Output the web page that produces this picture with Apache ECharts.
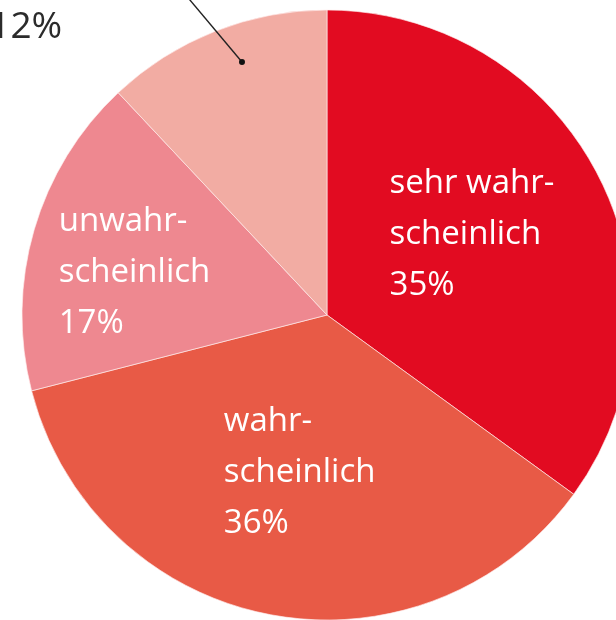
<!DOCTYPE html>
<html>
<head>
<meta charset="utf-8">
<style>
  html, body { margin: 0; padding: 0; background: #fff; }
  #chart { width: 616px; height: 620px; }
</style>
<script src="https://cdn.jsdelivr.net/npm/echarts@6/dist/echarts.min.js"></script>
</head>
<body>
<div id="chart"></div>
<script>
// Answer categories and their shares in percent
const categories = ['sehr wahrscheinlich', 'wahrscheinlich', 'unwahrscheinlich', 'sehr unwahrscheinlich'];
const labelTexts = ['sehr wahr-\nscheinlich', 'wahr-\nscheinlich', 'unwahr-\nscheinlich', ''];
const shares = [35, 36, 17, 12];

// Styling and layout
const sliceColors = ['#E20B21', '#E85A46', '#EE8890', '#F2ACA3'];
const labelShift = [
  { dx: -76, dy: -10, align: 'left' },
  { dx: -74, dy: 5, align: 'left' },
  { dx: -119, dy: 1, align: 'left' },
  { dx: -112, dy: 10, align: 'right' }
];
const pieCenter = [327, 315];
const pieRadius = 305;
// pointer into the last slice: position within the slice and heading of the leader line
const pointer = { along: 0.57, depth: 0.875, heading: 320, length: 110 };

const chart = echarts.init(document.getElementById('chart'), null, { renderer: 'canvas' });

const insideLabel = {
  show: true,
  position: 'inside',
  color: '#ffffff',
  fontFamily: 'Open Sans',
  fontSize: 33,
  lineHeight: 51,
  formatter: p => labelTexts[p.dataIndex] + '\n' + p.value + '%'
};

const data = categories.map((name, i) => {
  const item = { name, value: shares[i], itemStyle: { color: sliceColors[i] } };
  if (i === 3) {
    item.label = {
      show: true,
      position: 'outside',
      color: '#2b2b2b',
      fontFamily: 'Open Sans',
      fontSize: 37,
      formatter: p => p.value + '%'
    };
    item.labelLine = { show: false };
  }
  return item;
});

// leader line into the last slice, placed from the slice angles
const total = shares.reduce((a, b) => a + b, 0);
const startLast = shares.slice(0, 3).reduce((a, b) => a + b, 0) / total * 360;
const endLast = 360;
const ang = (startLast + pointer.along * (endLast - startLast)) * Math.PI / 180;
const px = pieCenter[0] + pointer.depth * pieRadius * Math.sin(ang);
const py = pieCenter[1] - pointer.depth * pieRadius * Math.cos(ang);
const hd = pointer.heading * Math.PI / 180;
const qx = px + pointer.length * Math.sin(hd);
const qy = py - pointer.length * Math.cos(hd);

chart.setOption({
  animation: false,
  series: [{
    type: 'pie',
    center: pieCenter,
    radius: pieRadius,
    startAngle: 90,
    clockwise: true,
    avoidLabelOverlap: false,
    silent: true,
    itemStyle: { borderColor: 'rgba(255,236,236,0.65)', borderWidth: 1 },
    label: insideLabel,
    labelLine: { show: false },
    labelLayout: p => labelShift[p.dataIndex],
    emphasis: { disabled: true },
    data
  }],
  graphic: [
    { type: 'line', shape: { x1: px, y1: py, x2: qx, y2: qy }, style: { stroke: '#222', lineWidth: 1.4 }, z: 10 },
    { type: 'circle', shape: { cx: px, cy: py, r: 3 }, style: { fill: '#111' }, z: 10 }
  ]
});
</script>
</body>
</html>
